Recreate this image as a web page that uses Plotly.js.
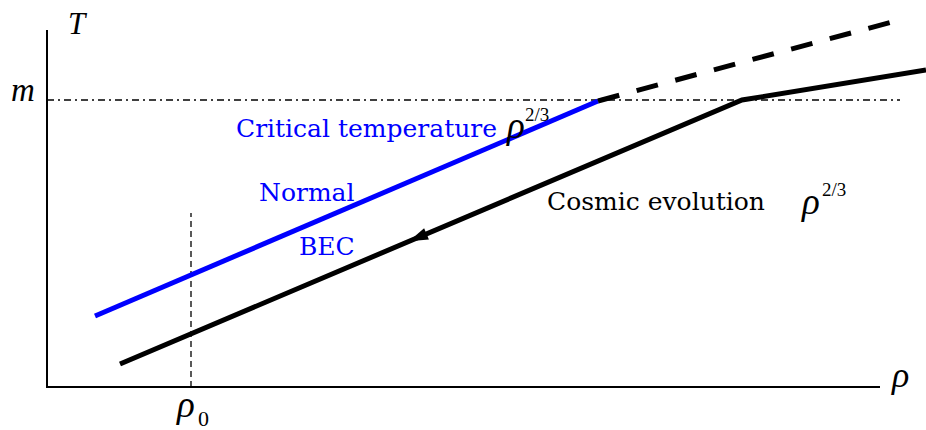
<!DOCTYPE html>
<html>
<head>
<meta charset="utf-8">
<script src="https://cdn.plot.ly/plotly-3.0.1.min.js"></script>
<style>
  html, body { margin: 0; padding: 0; background: #fff; }
  #chart { width: 926px; height: 430px; }
</style>
</head>
<body>
<div id="chart"></div>
<script>
// Schematic phase diagram: temperature T versus density rho (arbitrary units,
// origin at the corner of the axes).

// Critical temperature curve T_c ~ rho^(2/3), below the mass scale m
const criticalRho = [48, 551];
const criticalT = [71, 286];

// Continuation of the critical curve above m
const extensionRho = [551, 856];
const extensionT = [286, 368];

// Cosmic evolution track (kink where it crosses T = m)
const cosmicRho = [73, 695, 879];
const cosmicT = [23, 287, 317];

// Mass scale m and reference density rho_0
const massLevel = 287;
const massRho = [0, 853];
const rho0 = 144;
const rho0Top = 174;

// Axis extents
const axisRhoMax = 833;
const axisTMax = 357;

const serif = '"DejaVu Serif", "Liberation Serif", serif';
const mathSerif = '"Liberation Serif", "Times New Roman", serif';

// point on the cosmic track where the direction arrow sits
const arrowRho = 362;
const slope = (cosmicT[1] - cosmicT[0]) / (cosmicRho[1] - cosmicRho[0]);
const arrowT = cosmicT[0] + slope * (arrowRho - cosmicRho[0]);
// screen angle (clockwise from up) of travel towards lower density
const arrowAngle = 270 - Math.atan(slope) * 180 / Math.PI;

const traces = [
  // axes
  { x: [0, 0, axisRhoMax], y: [axisTMax, 0, 0], mode: 'lines',
    line: { color: '#000', width: 2 }, hoverinfo: 'skip' },
  // T = m
  { x: massRho, y: [massLevel, massLevel], mode: 'lines',
    line: { color: '#000', width: 1.3, dash: '7px,4px,2px,4px' }, hoverinfo: 'skip' },
  // rho = rho_0
  { x: [rho0, rho0], y: [0, rho0Top], mode: 'lines',
    line: { color: '#000', width: 1.3, dash: '6px,4px' }, hoverinfo: 'skip' },
  // critical temperature
  { x: criticalRho, y: criticalT, mode: 'lines',
    line: { color: '#0000ff', width: 5 }, hoverinfo: 'skip' },
  // continuation above m
  { x: extensionRho, y: extensionT, mode: 'lines',
    line: { color: '#000', width: 5, dash: '22px,18px' }, hoverinfo: 'skip' },
  // cosmic evolution
  { x: cosmicRho, y: cosmicT, mode: 'lines',
    line: { color: '#000', width: 5 }, hoverinfo: 'skip' },
  // direction of cosmic evolution
  { x: [arrowRho], y: [arrowT], mode: 'markers',
    marker: { symbol: 'arrow', size: 20, angle: arrowAngle, color: '#000',
              line: { width: 0 } }, hoverinfo: 'skip' }
];

function label(text, x, y, opts) {
  opts = opts || {};
  return { text: text, x: x, y: y, xref: 'x', yref: 'y', showarrow: false,
           xanchor: opts.anchor || 'center', yanchor: 'middle',
           font: { family: opts.family || serif, size: opts.size || 25,
                   color: opts.color || '#000', style: opts.style || 'normal' } };
}

const italicSym = (size) => ({ family: mathSerif, size: size, style: 'italic' });
const exponent = (size) => ({ family: mathSerif, size: size, anchor: 'left' });

const annotations = [
  // axis symbols
  label('T', 31, 364, italicSym(31)),
  label('m', -24, 297, italicSym(33)),
  label('ρ', 853, 12, italicSym(36)),
  label('ρ', rho0 - 6, -17, italicSym(37)),
  label('0', rho0 + 5, -31, exponent(22)),
  // region and curve labels
  label('Critical temperature', 187, 259, { color: '#0000ff', anchor: 'left' }),
  label('ρ', 468, 262, italicSym(37)),
  label('2/3', 476, 273, exponent(19)),
  label('Normal', 259, 195, { color: '#0000ff' }),
  label('BEC', 280, 141, { color: '#0000ff' }),
  label('Cosmic evolution', 609, 186),
  label('ρ', 763, 186, italicSym(37)),
  label('2/3', 773, 198, exponent(19))
];

const layout = {
  width: 926, height: 430,
  margin: { l: 0, r: 0, t: 0, b: 0 },
  paper_bgcolor: '#fff', plot_bgcolor: '#fff',
  showlegend: false,
  xaxis: { range: [-47, 879], visible: false, fixedrange: true },
  yaxis: { range: [-43, 387], visible: false, fixedrange: true },
  annotations: annotations
};

Plotly.newPlot('chart', traces, layout, { staticPlot: true });
</script>
</body>
</html>
